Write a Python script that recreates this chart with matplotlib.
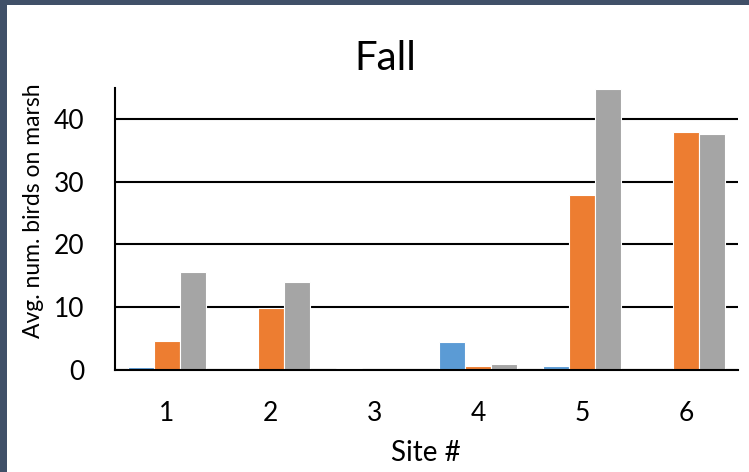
import matplotlib
matplotlib.use("Agg")
import matplotlib.pyplot as plt
import numpy as np
from matplotlib.patches import Rectangle

sites = ["1", "2", "3", "4", "5", "6"]
series_a = [0.4, 0.0, 0.25, 4.5, 0.7, 0.0]
series_b = [4.6, 9.9, 0.0, 0.7, 27.8, 37.9]
series_c = [15.6, 14.0, 0.0, 0.9, 44.7, 37.6]
yticks = [0, 10, 20, 30, 40]

plt.rcParams['font.family'] = ['Lato', 'DejaVu Sans']

W, H = 749, 472
fig = plt.figure(figsize=(W / 100, H / 100), dpi=100)
fig.patch.set_facecolor('white')

# frame strips (left and top)
fig.patches.append(Rectangle((0, 0), 7 / W, 1, transform=fig.transFigure,
                             facecolor='#405068', edgecolor='none', zorder=0))
fig.patches.append(Rectangle((0, 1 - 5 / H), 1, 5 / H, transform=fig.transFigure,
                             facecolor='#405068', edgecolor='none', zorder=0))

ax = fig.add_axes([115 / W, (H - 370) / H, (738 - 115) / W, (370 - 88) / H])

x = np.arange(len(sites))
bw = 0.25
colors = ['#5B9BD5', '#ED7D31', '#A5A5A5']
for i, (vals, c) in enumerate(zip([series_a, series_b, series_c], colors)):
    ax.bar(x + (i - 1) * bw, vals, width=bw, color=c, edgecolor='white',
           linewidth=0.8, zorder=3)

ax.set_xlim(-0.5, len(sites) - 0.5)
ax.set_ylim(0, 44.9)
ax.set_yticks(yticks)
ax.set_xticks(x)
ax.set_xticklabels(sites)
ax.yaxis.grid(True, color='black', linewidth=1.5, zorder=1)
ax.set_axisbelow(True)
for s in ['top', 'right']:
    ax.spines[s].set_visible(False)
ax.spines['left'].set_linewidth(1.5)
ax.spines['bottom'].set_linewidth(1.5)
ax.spines['left'].set_zorder(4)
ax.spines['bottom'].set_zorder(4)
ax.tick_params(axis='both', length=0, labelsize=19)
ax.tick_params(axis='y', pad=22)
ax.tick_params(axis='x', pad=22)

fig.text(385 / W, 1 - 58 / H, "Fall", ha='center', va='center', fontsize=29)
fig.text(426 / W, 1 - 453 / H, "Site #", ha='center', va='center', fontsize=20)
fig.text(34 / W, 1 - 211 / H, "Avg. num. birds on marsh", ha='center', va='center',
         rotation=90, fontsize=16.5)

fig.savefig("out.png", dpi=100, facecolor='white')
